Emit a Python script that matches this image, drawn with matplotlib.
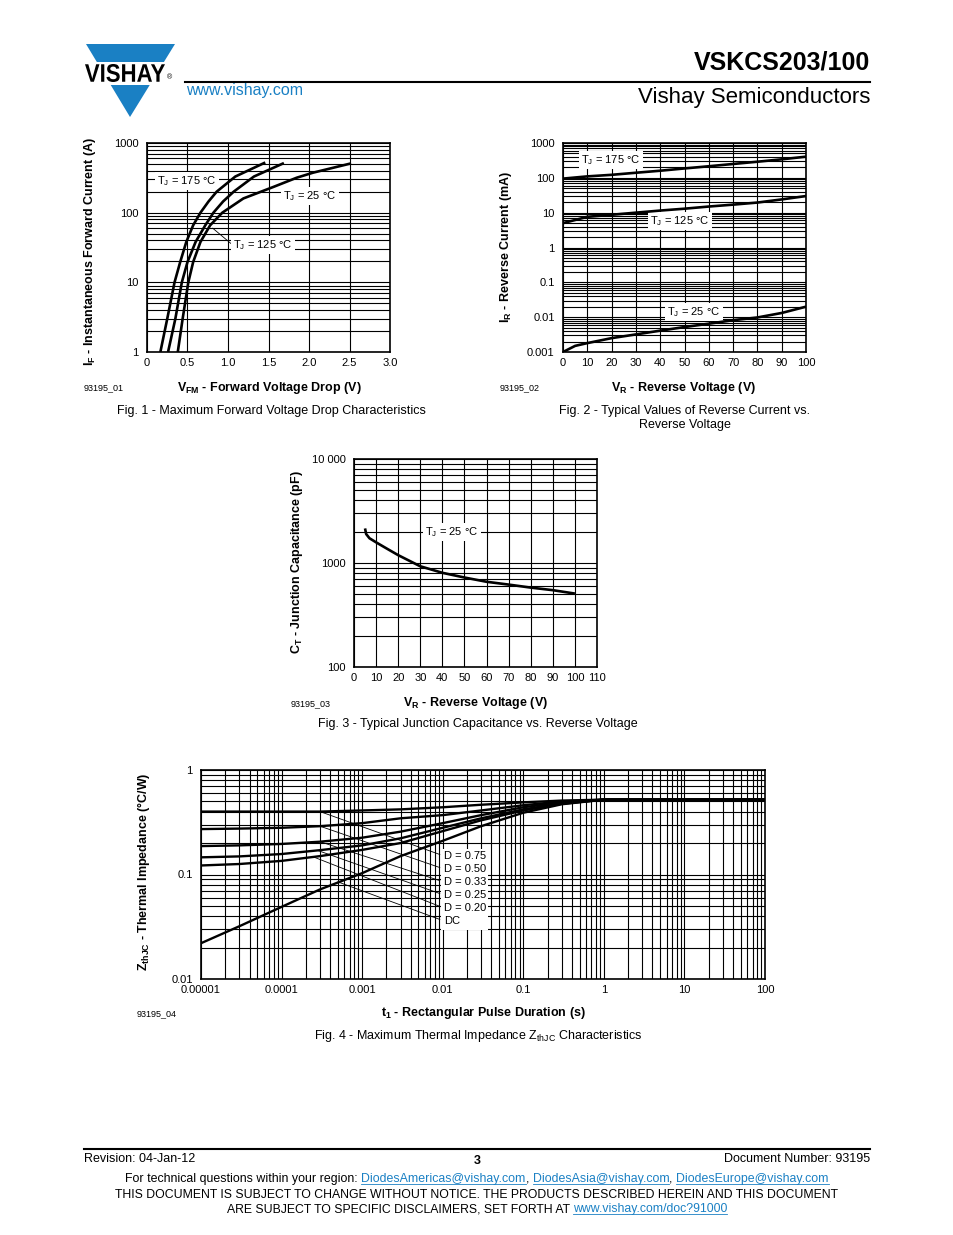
import matplotlib
matplotlib.use('Agg')
import matplotlib.pyplot as plt
import matplotlib.ticker as mticker
import numpy as np
from matplotlib.patches import Polygon, Rectangle, PathPatch
from matplotlib.lines import Line2D
from matplotlib.textpath import TextPath
from matplotlib.font_manager import FontProperties
from matplotlib.transforms import Affine2D, IdentityTransform

plt.rcParams['font.family'] = ['Liberation Sans', 'DejaVu Sans']
plt.rcParams['mathtext.default'] = 'regular'

W, H = 954, 1235
BLUE = '#1a80c4'

# Fig. 1 - forward voltage drop (V) vs forward current (A)
vf_175 = [0.165, 0.25, 0.34, 0.41, 0.485, 0.57, 0.66, 0.76, 0.86, 1.09, 1.46]
if_175 = [1, 3, 10, 19.6, 38, 66, 100, 145, 200, 330, 525]
vf_125 = [0.26, 0.35, 0.43, 0.50, 0.60, 0.72, 0.82, 0.94, 1.07, 1.32, 1.69]
if_125 = [1, 3, 10, 19.6, 38, 66, 100, 145, 200, 330, 515]
vf_25 = [0.38, 0.44, 0.51, 0.57, 0.66, 0.78, 0.93, 1.19, 1.56, 1.85, 2.05, 2.52]
if_25 = [1, 3, 10, 19.6, 38, 66, 100, 160, 234, 318, 375, 510]

# Fig. 2 - reverse current (mA) vs reverse voltage
vr_hot = [0, 10, 20, 30, 40, 50, 60, 70, 80, 90, 100]
ir_175 = [95, 110, 122, 140, 160, 186, 215, 250, 290, 340, 405]
ir_125 = [5, 7.6, 8.7, 10, 11.5, 13, 15, 17, 19.5, 24, 30]
vr_25 = [0, 5, 10, 20, 30, 40, 50, 60, 70, 80, 90, 100]
ir_25 = [0.001, 0.0015, 0.0018, 0.0025, 0.0032, 0.0041, 0.0052, 0.0065, 0.0082, 0.0098, 0.0132, 0.020]

# Fig. 3 - junction capacitance (pF)
vr_ct = [5, 5.5, 7, 10, 15, 20, 30, 40, 50, 60, 70, 80, 90, 100]
ct = [2150, 1900, 1730, 1580, 1370, 1190, 930, 805, 725, 660, 620, 580, 548, 508]

# Fig. 4 - thermal impedance (degC/W) vs pulse duration (s)
t_pulse = [1e-5, 3e-5, 1e-4, 3e-4, 1e-3, 3e-3, 1e-2, 3e-2, 0.1, 0.3, 1, 3, 10, 30, 100]
z_d075 = [0.40, 0.40, 0.40, 0.40, 0.41, 0.42, 0.44, 0.465, 0.49, 0.51, 0.52, 0.52, 0.52, 0.52, 0.52]
z_d050 = [0.272, 0.275, 0.28, 0.29, 0.31, 0.345, 0.37, 0.41, 0.46, 0.50, 0.52, 0.52, 0.52, 0.52, 0.52]
z_d033 = [0.187, 0.19, 0.196, 0.206, 0.225, 0.257, 0.31, 0.37, 0.44, 0.49, 0.52, 0.52, 0.52, 0.52, 0.52]
z_d025 = [0.146, 0.149, 0.157, 0.171, 0.19, 0.222, 0.28, 0.345, 0.42, 0.48, 0.52, 0.52, 0.52, 0.52, 0.52]
z_d020 = [0.122, 0.126, 0.135, 0.15, 0.172, 0.20, 0.26, 0.33, 0.41, 0.475, 0.52, 0.52, 0.52, 0.52, 0.52]
z_dc = [0.022, 0.032, 0.049, 0.072, 0.103, 0.15, 0.21, 0.29, 0.39, 0.47, 0.52, 0.52, 0.52, 0.52, 0.52]
d_labels = ['D = 0.75', 'D = 0.50', 'D = 0.33', 'D = 0.25', 'D = 0.20', 'DC']

fig = plt.figure(figsize=(W / 100, H / 100), dpi=100)


def fx(x):
    return x / W


def fy(y):
    return 1 - y / H


def px_axes(l, t, r, b):
    return fig.add_axes([l / W, 1 - b / H, (r - l) / W, (b - t) / H])


def ftext(x, y, s, **kw):
    return fig.text(fx(x), fy(y), s, **kw)


def style(ax, logx=False):
    ax.set_axisbelow(True)
    ax.grid(True, which='major', axis='x', color='black', lw=0.8)
    ax.grid(True, which='both', axis='y', color='black', lw=0.8)
    if logx:
        ax.grid(True, which='minor', axis='x', color='black', lw=0.8)
    ax.tick_params(which='both', length=0, labelsize=8)
    ax.tick_params(axis='y', pad=6)
    ax.tick_params(axis='x', pad=4.5)
    for s in ax.spines.values():
        s.set_linewidth(1.2)
    ax.yaxis.set_minor_locator(mticker.LogLocator(base=10, subs=np.arange(2, 10)))
    ax.yaxis.set_minor_formatter(mticker.NullFormatter())


lbl_box = dict(boxstyle='square,pad=0.2', fc='white', ec='none')
curve = dict(color='black', lw=1.9, zorder=4, solid_capstyle='butt', solid_joinstyle='round')

# ---------------- Fig 1
ax1 = px_axes(147, 143, 390, 352)
ax1.set_yscale('log')
ax1.plot(vf_175, if_175, **curve)
ax1.plot(vf_125, if_125, **curve)
ax1.plot(vf_25, if_25, **curve)
ax1.set_xlim(0, 3)
ax1.set_ylim(1, 1000)
ax1.set_xticks(np.arange(0, 3.01, 0.5))
ax1.set_xticklabels(['0', '0.5', '1.0', '1.5', '2.0', '2.5', '3.0'])
ax1.set_yticks([1, 10, 100, 1000])
ax1.set_yticklabels(['1', '10', '100', '1000'])
style(ax1)
ax1.text(0.49, 285, 'T$_J$ = 175 °C', fontsize=8, ha='center', va='center', bbox=lbl_box, zorder=3)
ax1.text(2.01, 173, 'T$_J$ = 25 °C', fontsize=8, ha='center', va='center', bbox=lbl_box, zorder=3)
ax1.annotate('T$_J$ = 125 °C', xy=(0.81, 60), xytext=(1.43, 34), fontsize=8, ha='center', va='center',
             bbox=lbl_box, zorder=3,
             arrowprops=dict(arrowstyle='-', lw=0.6, color='black', shrinkA=0, shrinkB=0, relpos=(0, 0.5)))
ftext(90, 252, 'I$_F$ - Instantaneous Forward Current (A)', rotation=90, ha='center', va='center',
      fontsize=9, fontweight='bold')
ftext(269, 388, 'V$_{FM}$ - Forward Voltage Drop (V)', ha='center', va='center', fontsize=9, fontweight='bold')
ftext(84, 388, '93195_01', ha='left', va='center', fontsize=6.5)
ftext(271, 411, 'Fig. 1 - Maximum Forward Voltage Drop Characteristics', ha='center', va='center', fontsize=9)

# ---------------- Fig 2
ax2 = px_axes(563, 143, 806, 352)
ax2.set_yscale('log')
ax2.plot(vr_hot, ir_175, **curve)
ax2.plot(vr_hot, ir_125, **curve)
ax2.plot(vr_25, ir_25, **curve)
ax2.set_xlim(0, 100)
ax2.set_ylim(0.001, 1000)
ax2.set_xticks(np.arange(0, 101, 10))
ax2.set_yticks([0.001, 0.01, 0.1, 1, 10, 100, 1000])
ax2.set_yticklabels(['0.001', '0.01', '0.1', '1', '10', '100', '1000'])
style(ax2)
ax2.text(19.8, 324, 'T$_J$ = 175 °C', fontsize=8, ha='center', va='center', bbox=lbl_box, zorder=3)
ax2.text(48.1, 5.77, 'T$_J$ = 125 °C', fontsize=8, ha='center', va='center', bbox=lbl_box, zorder=3)
ax2.text(53.9, 0.0141, 'T$_J$ = 25 °C', fontsize=8, ha='center', va='center', bbox=lbl_box, zorder=3)
ftext(506, 247, 'I$_R$ - Reverse Current (mA)', rotation=90, ha='center', va='center',
      fontsize=9, fontweight='bold')
ftext(684, 388, 'V$_R$ - Reverse Voltage (V)', ha='center', va='center', fontsize=9, fontweight='bold')
ftext(500, 388, '93195_02', ha='left', va='center', fontsize=6.5)
ftext(685, 411, 'Fig. 2 - Typical Values of Reverse Current vs.', ha='center', va='center', fontsize=9)
ftext(685, 425, 'Reverse Voltage', ha='center', va='center', fontsize=9)

# ---------------- Fig 3
ax3 = px_axes(354, 459, 597, 667)
ax3.set_yscale('log')
ax3.plot(vr_ct, ct, **curve)
ax3.set_xlim(0, 110)
ax3.set_ylim(100, 10000)
ax3.set_xticks(np.arange(0, 111, 10))
ax3.set_yticks([100, 1000, 10000])
ax3.set_yticklabels(['100', '1000', '10 000'])
style(ax3)
ax3.text(44.4, 1986, 'T$_J$ = 25 °C', fontsize=8, ha='center', va='center', bbox=lbl_box, zorder=3)
ftext(297, 562, 'C$_T$ - Junction Capacitance (pF)', rotation=90, ha='center', va='center',
      fontsize=9, fontweight='bold')
ftext(476, 703, 'V$_R$ - Reverse Voltage (V)', ha='center', va='center', fontsize=9, fontweight='bold')
ftext(291, 704, '93195_03', ha='left', va='center', fontsize=6.5)
ftext(478, 724, 'Fig. 3 - Typical Junction Capacitance vs. Reverse Voltage', ha='center', va='center', fontsize=9)

# ---------------- Fig 4
ax4 = px_axes(201, 770, 765, 979)
ax4.set_xscale('log')
ax4.set_yscale('log')
for z in [z_d075, z_d050, z_d033, z_d025, z_d020, z_dc]:
    ax4.plot(t_pulse, z, color='black', lw=1.7, zorder=4, solid_joinstyle='round')
ax4.set_xlim(1e-5, 100)
ax4.set_ylim(0.01, 1)
xt = [1e-5, 1e-4, 1e-3, 1e-2, 0.1, 1, 10, 100]
ax4.set_xticks(xt)
ax4.set_xticklabels(['0.00001', '0.0001', '0.001', '0.01', '0.1', '1', '10', '100'])
ax4.xaxis.set_minor_locator(mticker.LogLocator(base=10, subs=np.arange(2, 10)))
ax4.xaxis.set_minor_formatter(mticker.NullFormatter())
ax4.set_yticks([0.01, 0.1, 1])
ax4.set_yticklabels(['0.01', '0.1', '1'])
style(ax4, logx=True)
ax4.add_patch(Rectangle((fx(441), fy(930)), (488 - 441) / W, (930 - 849) / H, transform=fig.transFigure,
                        fc='white', ec='none', zorder=2.5))
lead_pts = [(3e-4, 0.40), (3e-4, 0.29), (3e-4, 0.206), (2.8e-4, 0.17), (2.5e-4, 0.147), (5e-4, 0.085)]
for i, (lab, pt) in enumerate(zip(d_labels, lead_pts)):
    ax4.annotate(lab, xy=pt, xytext=(444, H - (856 + 13 * i)), textcoords='figure pixels',
                 fontsize=8, ha='left', va='center', zorder=3,
                 arrowprops=dict(arrowstyle='-', lw=0.6, color='black', shrinkA=1, shrinkB=0, relpos=(0, 0.5)))
ftext(143, 872, 'Z$_{thJC}$ - Thermal Impedance (°C/W)', rotation=90, ha='center', va='center',
      fontsize=9, fontweight='bold')
ftext(483, 1013, 't$_1$ - Rectangular Pulse Duration (s)', ha='center', va='center', fontsize=9, fontweight='bold')
ftext(137, 1014, '93195_04', ha='left', va='center', fontsize=6.5)
ftext(478, 1036, 'Fig. 4 - Maximum Thermal Impedance Z$_{thJC}$ Characteristics', ha='center', va='center',
      fontsize=9)

# ---------------- header
fig.add_artist(Polygon([(fx(86), fy(44)), (fx(175), fy(44)), (fx(130), fy(117))], closed=True,
                       transform=fig.transFigure, fc=BLUE, ec='none'))
fig.add_artist(Rectangle((fx(80), fy(84.5)), 100 / W, 22 / H, transform=fig.transFigure, fc='white', ec='none'))
tp = TextPath((0, 0), 'VISHAY', size=10, prop=FontProperties(family='Liberation Sans', weight='bold'))
ext = tp.get_extents()
tr = Affine2D().translate(-ext.x0, -ext.y0).scale(80 / ext.width, 18 / ext.height).translate(85, H - 82)
fig.add_artist(PathPatch(tr.transform_path(tp), fc='black', ec='none', transform=IdentityTransform()))
ftext(167, 78, '®', ha='left', va='center', fontsize=5)
fig.add_artist(Line2D([fx(185), fx(870)], [fy(82), fy(82)], color='black', lw=1.5, transform=fig.transFigure))
ftext(870, 63, 'VSKCS203/100', ha='right', va='center', fontsize=18, fontweight='bold')
ftext(186, 91, 'www.vishay.com', ha='left', va='center', fontsize=11.5, color=BLUE)
ftext(870, 98, 'Vishay Semiconductors', ha='right', va='center', fontsize=16)

# ---------------- footer
fig.add_artist(Line2D([fx(84), fx(870)], [fy(1149), fy(1149)], color='black', lw=1.5, transform=fig.transFigure))
ftext(84, 1159, 'Revision: 04-Jan-12', ha='left', va='center', fontsize=9)
ftext(477, 1161, '3', ha='center', va='center', fontsize=9, fontweight='bold')
ftext(870, 1159, 'Document Number: 93195', ha='right', va='center', fontsize=9)

renderer = fig.canvas.get_renderer()


def width_of(s, size):
    t = fig.text(0, 0, s, fontsize=size)
    w = t.get_window_extent(renderer).width
    t.remove()
    return w


def text_run(yb, pieces, size=8.9, cx=477):
    # pieces: (text, is_link, space_before)
    sp = width_of('a a', size) - width_of('aa', size)
    widths = [width_of(p[0], size) for p in pieces]
    total = sum(widths) + sp * sum(1 for p in pieces if p[2])
    x = cx - total / 2
    for (s, link, gap), w in zip(pieces, widths):
        if gap:
            x += sp
        ftext(x, yb, s, ha='left', va='baseline', fontsize=size, color=BLUE if link else 'black')
        if link:
            fig.add_artist(Line2D([fx(x), fx(x + w)], [fy(yb + 2), fy(yb + 2)], color=BLUE, lw=0.6,
                                  transform=fig.transFigure))
        x += w


text_run(1182, [('For technical questions within your region:', False, False),
                ('DiodesAmericas@vishay.com', True, True), (',', False, False),
                ('DiodesAsia@vishay.com', True, True), (',', False, False),
                ('DiodesEurope@vishay.com', True, True)])
ftext(477, 1195, 'THIS DOCUMENT IS SUBJECT TO CHANGE WITHOUT NOTICE. THE PRODUCTS DESCRIBED HEREIN AND THIS DOCUMENT',
      ha='center', va='center', fontsize=8.8)
text_run(1212, [('ARE SUBJECT TO SPECIFIC DISCLAIMERS, SET FORTH AT', False, False),
                ('www.vishay.com/doc?91000', True, True)], size=8.8)

fig.savefig('out.png', dpi=100)
